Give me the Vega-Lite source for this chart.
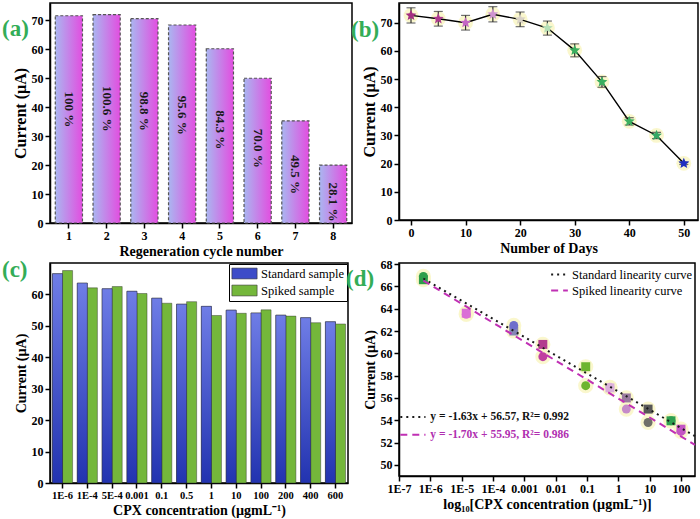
{
  "$schema": "https://vega.github.io/schema/vega-lite/v6.json",
  "padding": {"left": 1, "top": 2, "right": 0, "bottom": 0},
  "background": "white",
  "columns": 2,
  "spacing": {"row": 40, "column": 47},
  "bounds": "flush",
  "align": {"row": "all", "column": "none"},
  "resolve": {
    "scale": {"color": "independent", "fill": "independent", "shape": "independent", "strokeDash": "independent"},
    "legend": {"color": "independent", "fill": "independent", "shape": "independent", "strokeDash": "independent"}
  },
  "config": {
    "font": "Liberation Serif",
    "view": {"stroke": "black", "strokeWidth": 1.5},
    "axis": {"labelFont": "Liberation Serif", "labelFontWeight": "bold", "labelColor": "black", "labelFontSize": 12, "titleFont": "Liberation Serif", "titleFontWeight": "bold", "titleColor": "black", "domainColor": "black", "domainWidth": 1.5, "tickColor": "black", "tickWidth": 1.5, "tickSize": 5, "grid": false, "labelPadding": 2, "titlePadding": 3, "labelOverlap": false, "labelFlush": false},
    "legend": {"labelFont": "Liberation Serif", "labelColor": "black"},
    "title": {"font": "Liberation Serif", "fontWeight": "bold", "color": "#33ad57", "fontSize": 23, "anchor": "start", "frame": "group", "offset": 0, "baseline": "middle"}
  },
  "datasets": {
    "pts": [
      {"id": "1s", "conc": 6e-7, "current": 66.6, "series": "Standard"},
      {"id": "1c", "conc": 6e-7, "current": 66.9, "series": "Spiked"},
      {"id": "2c", "conc": 1.4e-5, "current": 63.5, "series": "Spiked"},
      {"id": "2s", "conc": 1.4e-5, "current": 63.6, "series": "Standard"},
      {"id": "3s", "conc": 4.6e-4, "current": 62.0, "series": "Standard"},
      {"id": "3c", "conc": 4.6e-4, "current": 62.5, "series": "Spiked"},
      {"id": "4s", "conc": 3.9e-3, "current": 60.8, "series": "Standard"},
      {"id": "4c", "conc": 3.9e-3, "current": 59.7, "series": "Spiked"},
      {"id": "5s", "conc": 0.091, "current": 58.8, "series": "Standard"},
      {"id": "5c", "conc": 0.091, "current": 57.1, "series": "Spiked"},
      {"id": "6s", "conc": 0.54, "current": 56.9, "series": "Standard"},
      {"id": "6c", "conc": 0.54, "current": 56.95, "series": "Spiked"},
      {"id": "7s", "conc": 1.8, "current": 56.0, "series": "Standard"},
      {"id": "7c", "conc": 1.8, "current": 55.0, "series": "Spiked"},
      {"id": "8s", "conc": 8.9, "current": 55.0, "series": "Standard"},
      {"id": "8c", "conc": 8.9, "current": 53.8, "series": "Spiked"},
      {"id": "9c", "conc": 48, "current": 53.95, "series": "Spiked"},
      {"id": "9s", "conc": 48, "current": 53.95, "series": "Standard"},
      {"id": "10c", "conc": 100, "current": 53.0, "series": "Spiked"},
      {"id": "10s", "conc": 100, "current": 53.2, "series": "Standard"}
    ],
    "fits": [
      {"curve": "Standard linearity curve", "conc": 6e-7, "current": 66.71},
      {"curve": "Standard linearity curve", "conc": 280, "current": 52.58},
      {"curve": "Spiked linearity curve", "conc": 6e-7, "current": 66.52},
      {"curve": "Spiked linearity curve", "conc": 280, "current": 51.79}
    ],
    "eqs": [
      {"curve": "Standard linearity curve", "xa": 1.1e-7, "xb": 7e-7, "xt": 1.0e-6, "yv": 54.3, "eq": "y = -1.63x + 56.57, R²= 0.992"},
      {"curve": "Spiked linearity curve", "xa": 1.1e-7, "xb": 7e-7, "xt": 1.0e-6, "yv": 52.7, "eq": "y = -1.70x + 55.95, R²= 0.986"}
    ]
  },
  "concat": [
    {
      "width": 302, "height": 220,
      "title": {"text": "(a)", "dx": -48, "dy": 42},
      "data": {"values": [
        {"cycle": 1, "current": 71.6, "label": "100 %"},
        {"cycle": 2, "current": 72.0, "label": "100.6 %"},
        {"cycle": 3, "current": 70.6, "label": "98.8 %"},
        {"cycle": 4, "current": 68.4, "label": "95.6 %"},
        {"cycle": 5, "current": 60.2, "label": "84.3 %"},
        {"cycle": 6, "current": 50.0, "label": "70.0 %"},
        {"cycle": 7, "current": 35.3, "label": "49.5 %"},
        {"cycle": 8, "current": 20.0, "label": "28.1 %"}
      ]},
      "layer": [
        {
          "mark": {"type": "bar", "color": {"gradient": "linear", "x1": 0, "y1": 0, "x2": 1, "y2": 0, "stops": [{"offset": 0, "color": "#aab6f0"}, {"offset": 1, "color": "#e24ee0"}]}, "stroke": "#555555", "strokeDash": [3, 2], "strokeWidth": 1.2},
          "encoding": {
            "x": {"field": "cycle", "type": "ordinal", "scale": {"paddingInner": 0.28, "paddingOuter": 0.14}, "axis": {"title": "Regeneration cycle number", "labelAngle": 0, "titleFontSize": 14}},
            "y": {"field": "current", "type": "quantitative", "scale": {"domain": [0, 76], "nice": false}, "axis": {"title": "Current (µA)", "values": [0, 10, 20, 30, 40, 50, 60, 70], "titleFontSize": 16}}
          }
        },
        {
          "mark": {"type": "text", "angle": 90, "fontWeight": "bold", "fontSize": 13, "color": "#1a1a1a", "align": "center", "baseline": "middle"},
          "encoding": {
            "x": {"field": "cycle", "type": "ordinal"},
            "y": {"field": "current", "type": "quantitative", "scale": {"domain": [8.3, 130.9], "nice": false, "zero": false}, "axis": null},
            "text": {"field": "label"}
          }
        }
      ],
      "resolve": {"scale": {"y": "independent"}}
    },
    {
      "width": 299, "height": 217,
      "title": {"text": "(b)", "dx": -48, "dy": 43},
      "data": {"values": [
        {"day": 0, "current": 72.6, "err": 2.7},
        {"day": 5, "current": 71.4, "err": 2.6},
        {"day": 10, "current": 70.0, "err": 2.6},
        {"day": 15, "current": 73.0, "err": 2.7},
        {"day": 20, "current": 71.2, "err": 2.6},
        {"day": 25, "current": 68.1, "err": 2.5},
        {"day": 30, "current": 60.2, "err": 2.3},
        {"day": 35, "current": 49.0, "err": 1.9},
        {"day": 40, "current": 35.0, "err": 1.3},
        {"day": 45, "current": 30.0, "err": 1.1},
        {"day": 50, "current": 20.1, "err": 0.4}
      ]},
      "encoding": {
        "x": {"field": "day", "type": "quantitative", "scale": {"domain": [-2.2, 52.6], "nice": false}, "axis": {"title": "Number of Days", "values": [0, 10, 20, 30, 40, 50], "titleFontSize": 14}},
        "y": {"field": "current", "type": "quantitative", "scale": {"domain": [0, 77], "nice": false}, "axis": {"title": "Current (µA)", "values": [0, 10, 20, 30, 40, 50, 60, 70], "titleFontSize": 16}}
      },
      "layer": [
        {"mark": {"type": "point", "filled": true, "shape": "circle", "size": 220, "color": "#f9f6c8", "opacity": 0.9}},
        {"mark": {"type": "line", "color": "black", "strokeWidth": 1.4}},
        {"mark": {"type": "errorbar", "ticks": {"size": 9, "thickness": 1.2}, "color": "#333333", "thickness": 1.2}, "encoding": {"yError": {"field": "err"}}},
        {
          "mark": {"type": "point", "filled": true, "opacity": 1, "size": 130, "shape": "M0,-1L0.265,-0.364L0.951,-0.309L0.428,0.139L0.588,0.809L0,0.45L-0.588,0.809L-0.428,0.139L-0.951,-0.309L-0.265,-0.364Z"},
          "encoding": {"color": {"field": "day", "type": "nominal", "legend": null, "scale": {"domain": [0, 5, 10, 15, 20, 25, 30, 35, 40, 45, 50], "range": ["#a42f80", "#ad3a8f", "#c467c4", "#cf95d0", "#d9d2c6", "#b5dfb5", "#3aae5e", "#3aae5e", "#3cb060", "#35a865", "#1f2fc0"]}}}
        }
      ]
    },
    {
      "width": 298, "height": 220,
      "title": {"text": "(c)", "dx": -48, "dy": 23},
      "data": {"values": [
        {"conc": "1E-6", "series": "Standard sample", "current": 66.6},
        {"conc": "1E-6", "series": "Spiked sample", "current": 67.6},
        {"conc": "1E-4", "series": "Standard sample", "current": 63.6},
        {"conc": "1E-4", "series": "Spiked sample", "current": 62.1},
        {"conc": "5E-4", "series": "Standard sample", "current": 61.8},
        {"conc": "5E-4", "series": "Spiked sample", "current": 62.5},
        {"conc": "0.001", "series": "Standard sample", "current": 61.0},
        {"conc": "0.001", "series": "Spiked sample", "current": 60.3},
        {"conc": "0.1", "series": "Standard sample", "current": 58.8},
        {"conc": "0.1", "series": "Spiked sample", "current": 57.2},
        {"conc": "0.5", "series": "Standard sample", "current": 56.9},
        {"conc": "0.5", "series": "Spiked sample", "current": 57.7},
        {"conc": "1", "series": "Standard sample", "current": 56.2},
        {"conc": "1", "series": "Spiked sample", "current": 53.3},
        {"conc": "10", "series": "Standard sample", "current": 55.0},
        {"conc": "10", "series": "Spiked sample", "current": 54.0},
        {"conc": "100", "series": "Standard sample", "current": 54.1},
        {"conc": "100", "series": "Spiked sample", "current": 55.1},
        {"conc": "200", "series": "Standard sample", "current": 53.4},
        {"conc": "200", "series": "Spiked sample", "current": 53.1},
        {"conc": "400", "series": "Standard sample", "current": 52.6},
        {"conc": "400", "series": "Spiked sample", "current": 51.0},
        {"conc": "600", "series": "Standard sample", "current": 51.3},
        {"conc": "600", "series": "Spiked sample", "current": 50.6}
      ]},
      "encoding": {
        "x": {"field": "conc", "type": "nominal", "sort": ["1E-6", "1E-4", "5E-4", "0.001", "0.1", "0.5", "1", "10", "100", "200", "400", "600"], "scale": {"paddingInner": 0.19, "paddingOuter": 0.1}, "axis": {"title": "CPX concentration (µgmL⁻¹)", "labelAngle": 0, "labelFontSize": 10.5, "titleFontSize": 14}},
        "xOffset": {"field": "series", "type": "nominal", "sort": ["Standard sample", "Spiked sample"], "scale": {"domain": ["Standard sample", "Spiked sample"]}},
        "y": {"field": "current", "type": "quantitative", "scale": {"domain": [0, 70], "nice": false}, "axis": {"title": "Current (µA)", "values": [0, 10, 20, 30, 40, 50, 60], "titleFontSize": 14}}
      },
      "layer": [
        {
          "mark": {"type": "bar", "stroke": "#2a2a2a", "strokeWidth": 0.6, "strokeOpacity": 0.7},
          "encoding": {
            "color": {"field": "series", "type": "nominal",
              "scale": {"domain": ["Standard sample", "Spiked sample"], "range": ["#3d4cc8", "#74b73b"]},
              "legend": {"title": null, "orient": "top-right", "offset": 1, "strokeColor": "black", "fillColor": "white", "padding": 3, "labelFontSize": 12.5, "symbolType": "M-2.1,-0.9H2.1V0.9H-2.1Z", "symbolSize": 144, "labelOffset": 10, "rowPadding": 2, "symbolStrokeColor": "#333333", "symbolStrokeWidth": 0.6, "symbolOpacity": 1, "symbolOffset": 6}}
          }
        },
        {
          "transform": [{"filter": "datum.series == 'Standard sample'"}],
          "mark": {"type": "bar", "stroke": "#2a2a2a", "strokeWidth": 0.6, "strokeOpacity": 0.7, "color": {"gradient": "linear", "x1": 0, "y1": 0, "x2": 0, "y2": 1, "stops": [{"offset": 0, "color": "#6f7de6"}, {"offset": 1, "color": "#2233b0"}]}}
        }
      ]
    },
    {
      "width": 296, "height": 213,
      "title": {"text": "(d)", "dx": -53, "dy": 37},
      "layer": [
        {
          "data": {"name": "pts"},
          "mark": {"type": "point", "filled": true, "shape": "circle", "size": 230, "color": "#faf6c8", "opacity": 0.9},
          "encoding": {
            "x": {"field": "conc", "type": "quantitative", "scale": {"type": "log", "domain": [1e-7, 280], "nice": false}, "axis": {"title": "log₁₀[CPX concentration (µgmL⁻¹)]", "values": [1e-7, 1e-6, 1e-5, 1e-4, 0.001, 0.01, 0.1, 1, 10, 100], "labelExpr": "datum.value < 0.0005 ? '1E-' + round(-log(datum.value)/LN10) : format(datum.value, '~g')", "titleFontSize": 14, "labelOverlap": false}},
            "y": {"field": "current", "type": "quantitative", "scale": {"domain": [49, 68.1], "nice": false, "zero": false}, "axis": {"title": "Current (µA)", "values": [50, 52, 54, 56, 58, 60, 62, 64, 66, 68], "tickCount": 10, "titleFontSize": 14, "labelOverlap": false}}
          }
        },
        {
          "data": {"name": "pts"},
          "mark": {"type": "point", "filled": true, "size": 80, "opacity": 1, "strokeWidth": 0},
          "encoding": {
            "x": {"field": "conc", "type": "quantitative"},
            "y": {"field": "current", "type": "quantitative"},
            "shape": {"field": "series", "type": "nominal", "legend": null, "scale": {"domain": ["Standard", "Spiked"], "range": ["square", "circle"]}},
            "fill": {"field": "id", "type": "nominal", "legend": null, "scale": {"domain": ["1s", "1c", "2c", "2s", "3s", "3c", "4s", "4c", "5s", "5c", "6s", "6c", "7s", "7c", "8s", "8c", "9c", "9s", "10c", "10s"], "range": ["#2e9e4a", "#2e9e4a", "#db6fd6", "#db6fd6", "#8585b5", "#6f6fcc", "#b33c8e", "#c0409f", "#6db52e", "#6db52e", "#dbb0db", "#dbb0db", "#9a7b9f", "#c58ac9", "#585858", "#707068", "#2ea050", "#2ea050", "#c455c4", "#c455c4"]}}
          }
        },
        {
          "data": {"name": "fits"},
          "mark": {"type": "line", "strokeWidth": 2},
          "encoding": {
            "x": {"field": "conc", "type": "quantitative"},
            "y": {"field": "current", "type": "quantitative"},
            "color": {"field": "curve", "type": "nominal", "scale": {"domain": ["Standard linearity curve", "Spiked linearity curve"], "range": ["#1a1a1a", "#c030b4"]}, "legend": {"title": null, "orient": "top-right", "offset": 2, "labelFontSize": 12.5, "symbolSize": 280, "symbolStrokeWidth": 2, "rowPadding": 0, "padding": 0, "labelOffset": 3}},
            "strokeDash": {"field": "curve", "type": "nominal", "scale": {"domain": ["Standard linearity curve", "Spiked linearity curve"], "range": [[2, 4], [7, 5]]}, "legend": {"title": null}}
          }
        },
        {
          "data": {"name": "eqs"},
          "mark": {"type": "rule", "strokeWidth": 2},
          "encoding": {
            "x": {"field": "xa", "type": "quantitative"},
            "x2": {"field": "xb"},
            "y": {"field": "yv", "type": "quantitative"},
            "color": {"field": "curve", "type": "nominal"},
            "strokeDash": {"field": "curve", "type": "nominal"}
          }
        },
        {
          "data": {"name": "eqs"},
          "mark": {"type": "text", "align": "left", "baseline": "middle", "fontWeight": "bold", "fontSize": 11.5},
          "encoding": {
            "x": {"field": "xt", "type": "quantitative"},
            "y": {"field": "yv", "type": "quantitative"},
            "text": {"field": "eq"},
            "color": {"condition": {"test": "datum.curve == 'Standard linearity curve'", "value": "#111111"}, "value": "#b02fb0"}
          }
        }
      ]
    }
  ]
}
